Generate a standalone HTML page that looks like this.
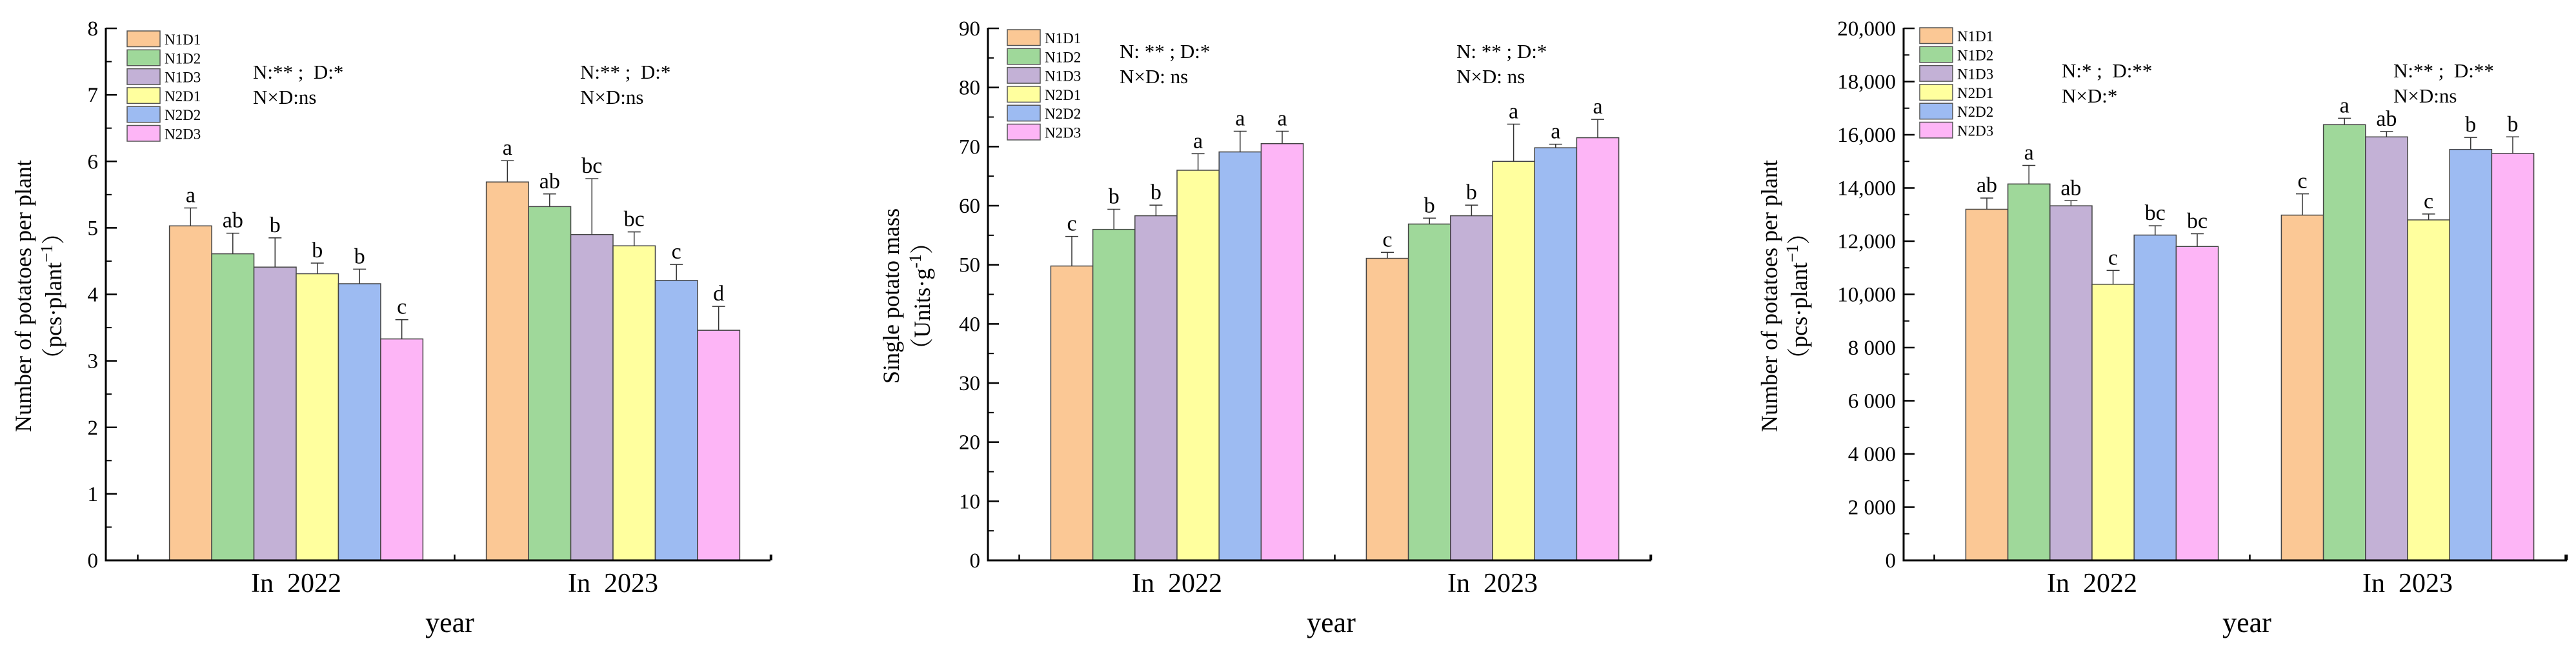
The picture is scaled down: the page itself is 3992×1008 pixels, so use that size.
<!DOCTYPE html>
<html><head><meta charset="utf-8">
<style>
html,body{margin:0;padding:0;background:#fff;}
svg{display:block;font-family:"Liberation Serif","Noto Serif CJK SC",serif;}
</style></head>
<body>
<svg id="fig" width="3992" height="1008" viewBox="0 0 3992 1008" xmlns="http://www.w3.org/2000/svg"></svg>
<script>
const series = ["N1D1","N1D2","N1D3","N2D1","N2D2","N2D3"];
const colors = ["#FBC895","#9FD89A","#C3B1D6","#FFFF9E","#9DBBF2","#FDB5F6"];
const categories = ["In  2022","In  2023"];

// Chart 1: number of potatoes per plant
const c1Values2022 = [5.03,4.61,4.41,4.31,4.16,3.33];
const c1Err2022 = [0.27,0.31,0.44,0.16,0.22,0.29];
const c1Values2023 = [5.69,5.32,4.90,4.73,4.21,3.46];
const c1Err2023 = [0.32,0.19,0.84,0.21,0.24,0.36];
const c1Letters2022 = ["a","ab","b","b","b","c"];
const c1Letters2023 = ["a","ab","bc","bc","c","d"];
const c1Ticks = [0,1,2,3,4,5,6,7,8];
const c1TickLabels = ["0","1","2","3","4","5","6","7","8"];

// Chart 2: single potato mass
const c2Values2022 = [49.8,56.0,58.3,66.0,69.1,70.5];
const c2Err2022 = [5.0,3.4,1.8,2.8,3.5,2.1];
const c2Values2023 = [51.1,56.9,58.3,67.5,69.8,71.5];
const c2Err2023 = [1.0,1.0,1.8,6.3,0.6,3.1];
const c2Letters2022 = ["c","b","b","a","a","a"];
const c2Letters2023 = ["c","b","b","a","a","a"];
const c2Ticks = [0,10,20,30,40,50,60,70,80,90];
const c2TickLabels = ["0","10","20","30","40","50","60","70","80","90"];

// Chart 3: number of potatoes
const c3Values2022 = [13200,14150,13330,10380,12230,11800];
const c3Err2022 = [420,700,190,520,350,480];
const c3Values2023 = [12980,16380,15920,12800,15450,15300];
const c3Err2023 = [800,240,200,220,450,620];
const c3Letters2022 = ["ab","a","ab","c","bc","bc"];
const c3Letters2023 = ["c","a","ab","c","b","b"];
const c3Ticks = [0,2000,4000,6000,8000,10000,12000,14000,16000,18000,20000];
const c3TickLabels = ["0","2 000","4 000","6 000","8 000","10,000","12,000","14,000","16,000","18,000","20,000"];

const NS = "http://www.w3.org/2000/svg";
const svg = document.getElementById("fig");
function mk(tag, attrs, parent){
  const e = document.createElementNS(NS, tag);
  for (const k in attrs) e.setAttribute(k, attrs[k]);
  (parent||svg).appendChild(e);
  return e;
}

function drawChart(cfg){
  const g = mk("g", {});
  
  
  const y = v => cfg.y0 - v / cfg.ymax * (cfg.y0 - cfg.ytop);
  const groupCenter = i => cfg.c0 + i * cfg.step;
  const bw = cfg.step * 0.8 / 6;
  const barX = (i, j) => groupCenter(i) - 3 * bw + j * bw;

  const groups = [
    {vals: cfg.v[0], errs: cfg.e[0], lets: cfg.l[0]},
    {vals: cfg.v[1], errs: cfg.e[1], lets: cfg.l[1]}
  ];
  groups.forEach((gr, i) => {
    gr.vals.forEach((v, j) => {
      const r = mk("rect", {x: barX(i,j), y: y(v), width: bw, height: cfg.y0 - y(v), fill: colors[j], stroke: "#444", "stroke-width": 1.5}, g);
      
      
      const cx = barX(i,j) + bw/2;
      const top = y(v + gr.errs[j]);
      const eb = mk("path", {d: `M${cx},${y(v)}V${top}M${cx-10},${top}H${cx+10}`, stroke: "#333", "stroke-width": 1.5, fill: "none"}, g);
      
      
      const t = mk("text", {x: cx, y: top - 9, "text-anchor": "middle", "font-size": 34, fill: "#000"}, g);
      t.textContent = gr.lets[j];
      
      
    });
  });

  const yax = mk("line", {x1: cfg.xl, y1: cfg.ytop - 1, x2: cfg.xl, y2: cfg.y0 + 1.5, stroke: "#000", "stroke-width": 3}, g);
  
  
  const xax = mk("line", {x1: cfg.xl - 1.5, y1: cfg.y0, x2: cfg.xr, y2: cfg.y0, stroke: "#000", "stroke-width": 3}, g);
  
  
  mk("line", {x1: cfg.xr, y1: cfg.y0, x2: cfg.xr, y2: cfg.y0 - 9, stroke: "#000", "stroke-width": 2.5}, g);
  for (let k = 0; k <= 2; k++){
    const tx = cfg.c0 - cfg.step/2 + k * cfg.step;
    mk("line", {x1: tx, y1: cfg.y0, x2: tx, y2: cfg.y0 - 9, stroke: "#000", "stroke-width": 2.5}, g);
  }
  cfg.ticks.forEach((tv, k) => {
    mk("line", {x1: cfg.xl, y1: y(tv), x2: cfg.xl + 17, y2: y(tv), stroke: "#000", "stroke-width": 2.5}, g);
    if (k < cfg.ticks.length - 1){
      const mv = (tv + cfg.ticks[k+1]) / 2;
      mk("line", {x1: cfg.xl, y1: y(mv), x2: cfg.xl + 9, y2: y(mv), stroke: "#000", "stroke-width": 2}, g);
    }
    const t = mk("text", {x: cfg.xl - 12, y: y(tv) + 11, "text-anchor": "end", "font-size": 33, fill: "#000"}, g);
    t.textContent = cfg.tickLabels[k];
    
    
  });
  categories.forEach((c, i) => {
    const t = mk("text", {x: groupCenter(i), y: 918, "text-anchor": "middle", "font-size": 42, fill: "#000"}, g);
    t.textContent = c;
    t.style.whiteSpace = "pre";
    
    
  });
  const xt = mk("text", {x: (cfg.xl + cfg.xr)/2 + 18, y: 980, "text-anchor": "middle", "font-size": 44, fill: "#000"}, g);
  xt.textContent = "year";
  
  

  const ty = mk("text", {transform: `translate(${cfg.t1x},459) rotate(-90)`, "text-anchor": "middle", "font-size": 36, fill: "#000"}, g);
  ty.textContent = cfg.title1;
  
  
  const ty2 = mk("text", {transform: `translate(${cfg.t2x},459) rotate(-90)`, "text-anchor": "middle", "font-size": 36, fill: "#000"}, g);
  ty2.innerHTML = cfg.title2;
  
  

  const lg = mk("g", {}, g);
  
  
  series.forEach((s, j) => {
    const ly = cfg.legY + j * 29.3;
    const r = mk("rect", {x: cfg.legX, y: ly, width: 51, height: 24.5, fill: colors[j], stroke: "#555", "stroke-width": 1.5}, lg);
    
    
    const t = mk("text", {x: cfg.legX + 58, y: ly + 21, "font-size": 23, fill: "#000"}, lg);
    t.textContent = s;
    
    
  });

  cfg.ann.forEach(a => {
    [a.l1, a.l2].forEach((txt, k) => {
      const t = mk("text", {x: a.x, y: a.y + k * 39, "font-size": 31, fill: "#000"}, g);
      t.textContent = txt;
      t.style.whiteSpace = "pre";
      
      
    });
  });
}

drawChart({name:"chart-potato-number", xl:164, xr:1194, ytop:44, y0:869, ymax:8, c0:459, step:491,
  v:[c1Values2022,c1Values2023], e:[c1Err2022,c1Err2023], l:[c1Letters2022,c1Letters2023],
  ticks:c1Ticks, tickLabels:c1TickLabels, t1x:48, t2x:95,
  title1:"Number of potatoes per plant",
  title2:'（pcs·plant<tspan dy="-14" font-size="26">−1</tspan><tspan dy="14">）</tspan>',
  legX:197, legY:48,
  ann:[{x:392,y:122,l1:"N:** ;  D:*",l2:"N×D:ns"},{x:899,y:122,l1:"N:** ;  D:*",l2:"N×D:ns"}]});

drawChart({name:"chart-single-potato-mass", xl:1531, xr:2559, ytop:44, y0:869, ymax:90, c0:1824, step:489,
  v:[c2Values2022,c2Values2023], e:[c2Err2022,c2Err2023], l:[c2Letters2022,c2Letters2023],
  ticks:c2Ticks, tickLabels:c2TickLabels, t1x:1393, t2x:1441,
  title1:"Single potato mass",
  title2:'（Units·g<tspan dy="-14" font-size="26">-1</tspan><tspan dy="14">）</tspan>',
  legX:1561, legY:46,
  ann:[{x:1735,y:90,l1:"N: ** ; D:*",l2:"N×D: ns"},{x:2257,y:90,l1:"N: ** ; D:*",l2:"N×D: ns"}]});

drawChart({name:"chart-potato-number-area", xl:2950, xr:3978, ytop:44, y0:869, ymax:20000, c0:3242, step:489,
  v:[c3Values2022,c3Values2023], e:[c3Err2022,c3Err2023], l:[c3Letters2022,c3Letters2023],
  ticks:c3Ticks, tickLabels:c3TickLabels, t1x:2754, t2x:2800,
  title1:"Number of potatoes per plant",
  title2:'（pcs·plant<tspan dy="-14" font-size="26">−1</tspan><tspan dy="14">）</tspan>',
  legX:2975, legY:43,
  ann:[{x:3195,y:120,l1:"N:* ;  D:**",l2:"N×D:*"},{x:3709,y:120,l1:"N:** ;  D:**",l2:"N×D:ns"}]});
</script>
</body></html>
